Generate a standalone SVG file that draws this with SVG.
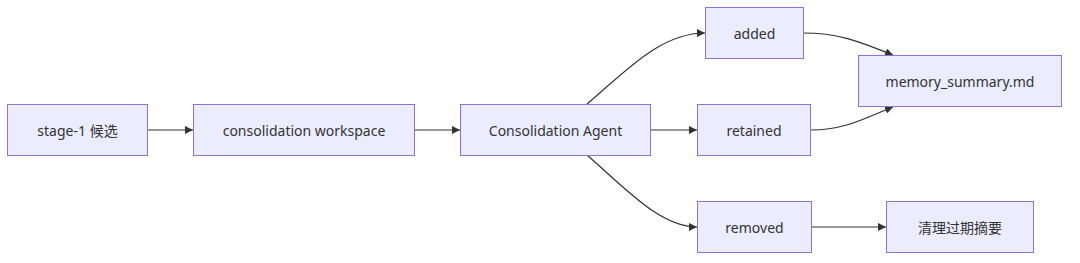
<svg xmlns="http://www.w3.org/2000/svg" width="1080" height="263" viewBox="0 0 1080 263">
<style>
.node rect{fill:#ECECFF;stroke:#9370DB;stroke-width:1}
.node text{font-family:"Noto Sans","Noto Sans CJK SC",sans-serif;font-size:14px;fill:#333;text-anchor:middle;dominant-baseline:central}
.edges path{fill:none;stroke:#333;stroke-width:1.2}
</style>
<defs>
<marker id="arrow" viewBox="0 0 10 10" refX="10" refY="5" markerWidth="8" markerHeight="8" markerUnits="userSpaceOnUse" orient="auto">
<path d="M0,0 L10,5 L0,10 z" fill="#333"/>
</marker>
</defs>
<g class="edges">
<path d="M147,130 L193,130" marker-end="url(#arrow)"/>
<path d="M414,130 L460,130" marker-end="url(#arrow)"/>
<path d="M650,130 L697,130" marker-end="url(#arrow)"/>
<path d="M587,104 C625,72 660,33 705,33" marker-end="url(#arrow)"/>
<path d="M587,155 C625,188 660,227 697,227" marker-end="url(#arrow)"/>
<path d="M803,33 C840,33 860,42 893,55" marker-end="url(#arrow)"/>
<path d="M811,130 C845,130 865,118 893,107" marker-end="url(#arrow)"/>
<path d="M811,227 L886,227" marker-end="url(#arrow)"/>
</g>
<g id="n1" class="node"><rect x="7.5" y="104.5" width="140" height="51"/><text x="77.5" y="130">stage-1 候选</text></g>
<g id="n2" class="node"><rect x="193.5" y="104.5" width="221" height="51"/><text x="304" y="130">consolidation workspace</text></g>
<g id="n3" class="node"><rect x="460.5" y="104.5" width="190" height="51"/><text x="555.5" y="130">Consolidation Agent</text></g>
<g id="n4" class="node"><rect x="705.5" y="7.5" width="98" height="51"/><text x="754.5" y="33">added</text></g>
<g id="n5" class="node"><rect x="697.5" y="104.5" width="113" height="51"/><text x="754" y="130">retained</text></g>
<g id="n6" class="node"><rect x="697.5" y="201.5" width="114" height="51"/><text x="754.5" y="227">removed</text></g>
<g id="n7" class="node"><rect x="858.5" y="55.5" width="203" height="51"/><text x="960" y="81">memory_summary.md</text></g>
<g id="n8" class="node"><rect x="886.5" y="201.5" width="147" height="51"/><text x="960" y="227">清理过期摘要</text></g>
</svg>
